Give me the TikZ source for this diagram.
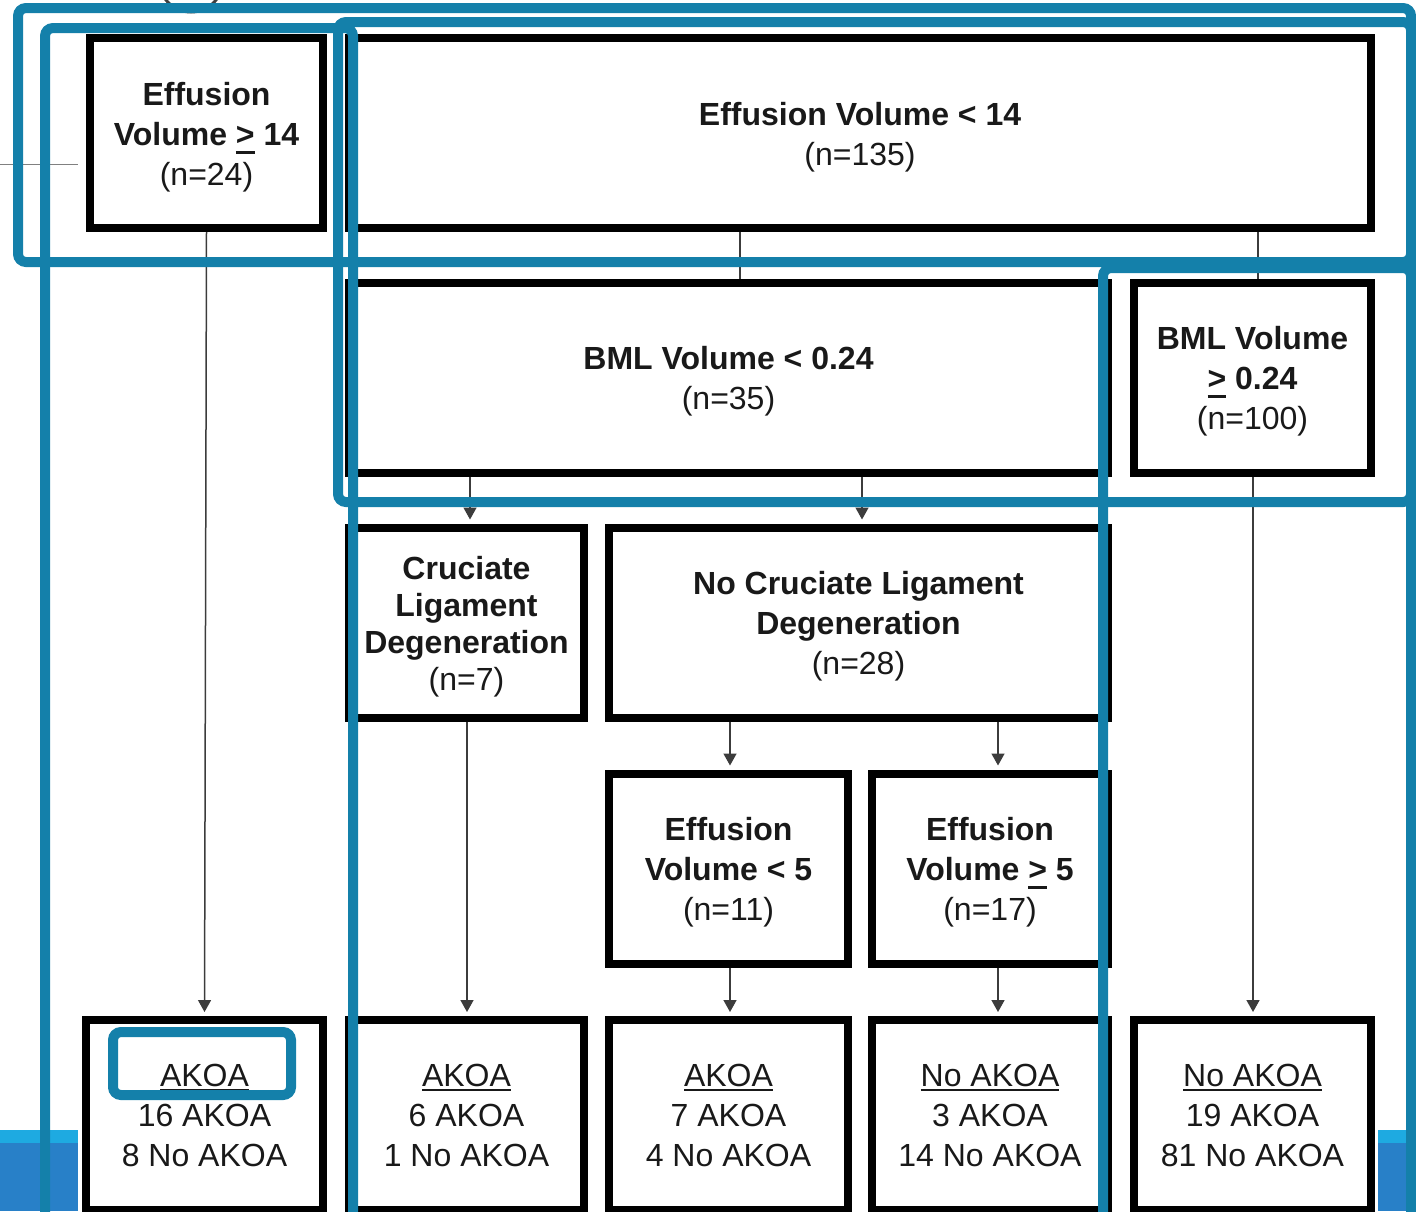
\documentclass[tikz,border=0pt]{standalone}
\usepackage{fontspec}
\setmainfont{Liberation Sans}
\usetikzlibrary{arrows.meta}

\definecolor{framebl}{RGB}{20,128,170}
\definecolor{barlight}{RGB}{30,170,225}
\definecolor{bardark}{RGB}{40,128,200}
\definecolor{linkgray}{RGB}{60,60,60}
\definecolor{txt}{RGB}{25,25,25}

% underlined ">" standing for "greater than or equal"
\newcommand{\ulge}{\setbox0\hbox{>}\rlap{\rule[-4.2pt]{\wd0}{1.5pt}}\box0}
% underlined word for the outcome headings
\newcommand{\ulword}[1]{\setbox0\hbox{#1}\rlap{\rule[-2.6pt]{\wd0}{0.9pt}}\box0}
% invisible strut that lowers the text block of a criterion box a little
\newcommand{\headstrut}{\rule{0pt}{15.6pt}}

\begin{document}
\begin{tikzpicture}[x=0.5pt,y=-0.5pt,
  box/.style={draw=black, fill=white, line width=4pt, rectangle, inner sep=0pt,
    minimum height=95pt, align=center, text=txt,
    font=\fontsize{16pt}{20pt}\selectfont},
  conn/.style={draw=linkgray, line width=0.75pt,
    -{Triangle[width=6.5pt,length=6pt]}, shorten >=2pt},
  link/.style={draw=linkgray, line width=0.75pt},
  frame/.style={draw=framebl, line width=5pt, rounded corners=4pt}]

\useasboundingbox (0,0) rectangle (1416,1211);
\begin{scope}
\clip (0,0) rectangle (1416,1211);

% background slide bars and stray marks
\fill[barlight] (0,1130) rectangle (78,1143);
\fill[bardark] (0,1143) rectangle (78,1211);
\fill[barlight] (1378,1130) rectangle (1416,1143);
\fill[bardark] (1378,1143) rectangle (1416,1211);
\draw[draw=black!50, line width=0.5pt] (0,164) -- (78,164);
\draw[draw=black!75, line width=1.5pt] (191,-20) circle[radius=32];

% decision tree
\node[box, minimum width=116.5pt] (e14hi) at (206.5,133)
  {\headstrut\textbf{Effusion}\\\textbf{Volume \ulge{} 14}\\(n=24)};
\node[box, minimum width=511pt] (e14lo) at (860,133)
  {\headstrut\textbf{Effusion Volume < 14}\\(n=135)};
\node[box, minimum width=379.5pt] (bmllo) at (728.5,377.5)
  {\headstrut\textbf{BML Volume < 0.24}\\(n=35)};
\node[box, minimum width=118.5pt] (bmlhi) at (1252.5,377.5)
  {\headstrut\textbf{BML Volume}\\\textbf{\ulge{} 0.24}\\(n=100)};
\node[box, minimum width=117.5pt, font=\fontsize{16pt}{18.5pt}\selectfont] (crl) at (466.5,622.5)
  {\headstrut\textbf{Cruciate}\\\textbf{Ligament}\\\textbf{Degeneration}\\(n=7)};
\node[box, minimum width=249.5pt] (nocrl) at (858.5,622.5)
  {\headstrut\textbf{No Cruciate Ligament}\\\textbf{Degeneration}\\(n=28)};
\node[box, minimum width=119.5pt] (e5lo) at (728.5,868.5)
  {\headstrut\textbf{Effusion}\\\textbf{Volume < 5}\\(n=11)};
\node[box, minimum width=118pt] (e5hi) at (990,868.5)
  {\headstrut\textbf{Effusion}\\\textbf{Volume \ulge{} 5}\\(n=17)};

\node[box, minimum width=118.5pt] (out1) at (204.5,1115)
  {\ulword{AKOA}\\16 AKOA\\8 No AKOA};
\node[box, minimum width=117.5pt] (out2) at (466.5,1115)
  {\ulword{AKOA}\\6 AKOA\\1 No AKOA};
\node[box, minimum width=119.5pt] (out3) at (728.5,1115)
  {\ulword{AKOA}\\7 AKOA\\4 No AKOA};
\node[box, minimum width=118pt] (out4) at (990,1115)
  {\ulword{No AKOA}\\3 AKOA\\14 No AKOA};
\node[box, minimum width=118.5pt] (out5) at (1252.5,1115)
  {\ulword{No AKOA}\\19 AKOA\\81 No AKOA};

% connectors
\draw[conn] (e14hi.south) -- (out1.north);
\draw[link] (e14lo.south -| 740,0) -- (bmllo.north -| 740,0);
\draw[link] (e14lo.south -| 1258,0) -- (bmlhi.north -| 1258,0);
\draw[conn] (bmllo.south -| 470,0) -- (crl.north -| 470,0);
\draw[conn] (bmllo.south -| 862,0) -- (nocrl.north -| 862,0);
\draw[conn] (nocrl.south -| 730,0) -- (e5lo.north -| 730,0);
\draw[conn] (nocrl.south -| 998,0) -- (e5hi.north -| 998,0);
\draw[conn] (crl.south -| 467,0) -- (out2.north -| 467,0);
\draw[conn] (e5lo.south -| 730,0) -- (out3.north -| 730,0);
\draw[conn] (e5hi.south -| 998,0) -- (out4.north -| 998,0);
\draw[conn] (bmlhi.south -| 1253,0) -- (out5.north -| 1253,0);

% highlight frames laid over the tree
\draw[frame] (18,8) rectangle (1411,262);
\draw[frame] (45,28) rectangle (353,1240);
\draw[frame] (338,22) rectangle (1411,502);
\draw[frame] (1103,268) rectangle (1411,1240);
\draw[frame] (113,1032) rectangle (291,1095);
\end{scope}
\end{tikzpicture}
\end{document}
